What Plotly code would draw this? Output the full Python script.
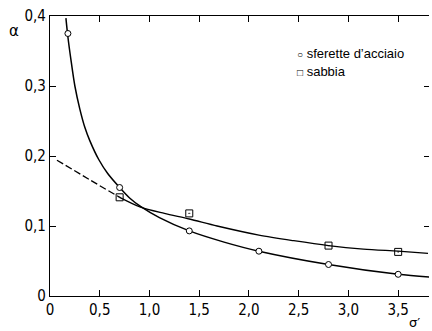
import plotly.graph_objects as go

# measured points
steel_x = [0.18, 0.7, 1.4, 2.1, 2.8, 3.5]
steel_y = [0.375, 0.155, 0.093, 0.064, 0.045, 0.031]
sand_x = [0.7, 1.4, 2.8, 3.5]
sand_y = [0.141, 0.118, 0.072, 0.063]

# fitted curves
steel_curve_x = [0.16, 0.18, 0.21, 0.25, 0.3, 0.35, 0.4, 0.49, 0.58, 0.7, 0.8, 0.91, 1.1, 1.4, 1.75, 2.1, 2.8, 3.5, 3.82]
steel_curve_y = [0.397, 0.370, 0.338, 0.300, 0.267, 0.241, 0.222, 0.195, 0.175, 0.155, 0.140, 0.128, 0.112, 0.093, 0.077, 0.064, 0.045, 0.031, 0.027]
sand_curve_x = [0.7, 0.91, 1.15, 1.4, 1.68, 2.1, 2.45, 2.8, 3.15, 3.5, 3.8]
sand_curve_y = [0.141, 0.127, 0.118, 0.110, 0.100, 0.087, 0.079, 0.072, 0.067, 0.064, 0.061]
sand_dash_x = [0.07, 0.4, 0.7]
sand_dash_y = [0.194, 0.166, 0.141]

x_ticks = [0, 0.5, 1.0, 1.5, 2.0, 2.5, 3.0, 3.5]
x_labels = ["0", "0,5", "1,0", "1,5", "2,0", "2,5", "3,0", "3,5"]
y_ticks = [0, 0.1, 0.2, 0.3, 0.4]
y_labels = ["0", "0,1", "0,2", "0,3", "0,4"]
legend_labels = ["sferette d’acciaio", "sabbia"]

FONT = "Liberation Sans Narrow, DejaVu Sans Condensed, Arial, sans-serif"

fig = go.Figure()
fig.add_trace(go.Scatter(x=steel_curve_x, y=steel_curve_y, mode="lines",
                         line=dict(color="black", width=1.5, shape="spline", smoothing=0.8),
                         showlegend=False, hoverinfo="skip"))
fig.add_trace(go.Scatter(x=sand_curve_x, y=sand_curve_y, mode="lines",
                         line=dict(color="black", width=1.3, shape="spline", smoothing=0.8),
                         showlegend=False, hoverinfo="skip"))
fig.add_trace(go.Scatter(x=sand_dash_x, y=sand_dash_y, mode="lines",
                         line=dict(color="black", width=1.3, shape="spline", dash="7px,3px"),
                         showlegend=False, hoverinfo="skip"))
fig.add_trace(go.Scatter(x=steel_x, y=steel_y, mode="markers",
                         marker=dict(symbol="circle", size=6, color="white",
                                     line=dict(color="black", width=1)),
                         showlegend=False))
fig.add_trace(go.Scatter(x=sand_x, y=sand_y, mode="markers",
                         marker=dict(symbol="square-open-dot", size=7, color="black",
                                     line=dict(width=1)),
                         showlegend=False))
fig.add_trace(go.Scatter(x=[None], y=[None], yaxis="y2", showlegend=False))

fig.update_layout(
    width=432, height=331,
    margin=dict(l=50, r=3, t=16, b=35),
    paper_bgcolor="white", plot_bgcolor="white",
    font=dict(family=FONT, size=15, color="black"),
    xaxis=dict(range=[0, 3.81], tickvals=x_ticks, ticktext=x_labels,
               showline=True, linecolor="black", linewidth=1.2, mirror="ticks",
               ticks="inside", ticklen=6, tickcolor="black", showgrid=False,
               zeroline=False, automargin=False),
    yaxis=dict(range=[0, 0.4], tickvals=y_ticks, ticktext=y_labels,
               showline=True, linecolor="black", linewidth=1.2,
               ticks="inside", ticklen=6, tickcolor="black", showgrid=False,
               zeroline=False, automargin=False),
    yaxis2=dict(range=[0, 0.4], overlaying="y", side="right", tickvals=y_ticks,
                showticklabels=False, ticks="inside", ticklen=5, tickcolor="black",
                showline=False, showgrid=False, zeroline=False, automargin=False),
    showlegend=False,
)
# legend as annotations
fig.add_annotation(text="<span style='font-size:10px'>○</span> " + legend_labels[0],
                   xref="paper", yref="paper", x=0.647, y=0.866,
                   showarrow=False, xanchor="left", yanchor="middle",
                   font=dict(family="Liberation Sans, Arial, sans-serif", size=13))
fig.add_annotation(text="<span style='font-size:10px'>□</span> " + legend_labels[1],
                   xref="paper", yref="paper", x=0.647, y=0.802,
                   showarrow=False, xanchor="left", yanchor="middle",
                   font=dict(family="Liberation Sans, Arial, sans-serif", size=13))
fig.add_annotation(text="α", xref="paper", yref="paper", x=-0.095, y=0.946,
                   showarrow=False, xanchor="center", yanchor="middle",
                   font=dict(family="DejaVu Sans", size=15))
fig.add_annotation(text="σ′", xref="paper", yref="paper", x=0.962, y=-0.093,
                   showarrow=False, xanchor="center", yanchor="middle",
                   font=dict(family="DejaVu Sans", size=13))

fig.write_html("out.html", config={"displayModeBar": False},
               post_script="document.body.style.margin='0';document.body.style.overflow='hidden';")
